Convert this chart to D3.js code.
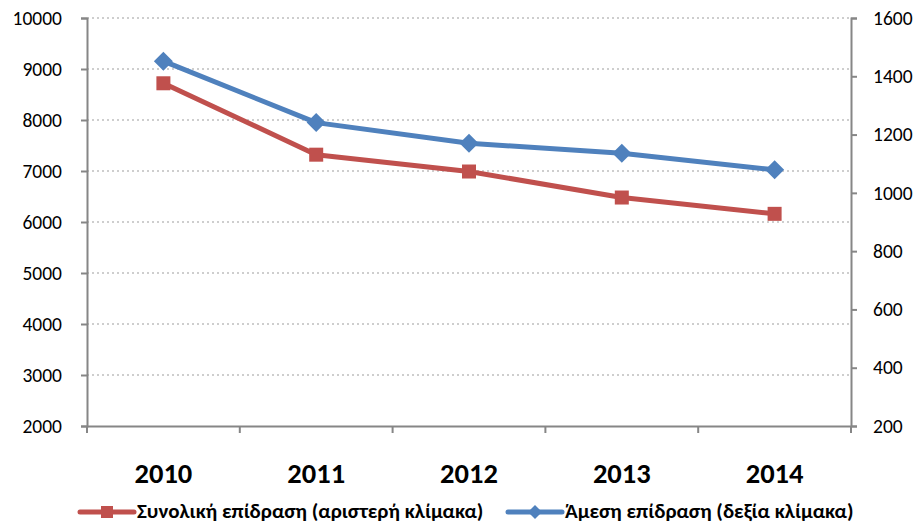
<!DOCTYPE html>
<html>
<head>
<meta charset="utf-8">
<script src="https://cdn.jsdelivr.net/npm/d3@7"></script>
<style>
  body { margin: 0; background: #fff; }
  svg text { font-family: Carlito, "Open Sans", "Noto Sans", sans-serif; }
</style>
</head>
<body>
<div id="chart-container"></div>
<script>
// Data
const years = ["2010", "2011", "2012", "2013", "2014"];
const totalEffect = [8720, 7320, 6990, 6480, 6160];   // left scale
const directEffect = [1452, 1241, 1170, 1136, 1079];  // right scale
const leftTicks = [2000, 3000, 4000, 5000, 6000, 7000, 8000, 9000, 10000];
const rightTicks = [200, 400, 600, 800, 1000, 1200, 1400, 1600];
const seriesNames = ["Συνολική επίδραση (αριστερή κλίμακα)", "Άμεση επίδραση (δεξία κλίμακα)"];

const W = 917, H = 523;
const margin = { top: 18, right: 66, bottom: 97, left: 87 };
const width = W - margin.left - margin.right;
const height = H - margin.top - margin.bottom;

const svg = d3.select("#chart-container")
  .append("svg")
  .attr("width", W)
  .attr("height", H);

const g = svg.append("g")
  .attr("transform", `translate(${margin.left},${margin.top})`);

const x = d3.scaleBand().domain(years).range([0, width]);
const yL = d3.scaleLinear().domain([2000, 10000]).range([height, 0]);
const yR = d3.scaleLinear().domain([200, 1600]).range([height, 0]);

const axisColor = "#868686";

// Gridlines
g.append("g")
  .selectAll("line")
  .data(leftTicks.filter(d => d > 2000))
  .enter().append("line")
  .attr("x1", 0).attr("x2", width)
  .attr("y1", d => yL(d)).attr("y2", d => yL(d))
  .attr("stroke", "#bfbfbf")
  .attr("stroke-width", 1.3)
  .attr("stroke-dasharray", "2,3");

// Left axis
const leftAxis = g.append("g")
  .call(d3.axisLeft(yL).tickValues(leftTicks).tickSize(6).tickPadding(19).tickFormat(d3.format("d")));
// Right axis
const rightAxis = g.append("g")
  .attr("transform", `translate(${width},0)`)
  .call(d3.axisRight(yR).tickValues(rightTicks).tickSize(6).tickPadding(16).tickFormat(d3.format("d")));
// Bottom axis, labels centred in each category
const xAxis = g.append("g")
  .attr("transform", `translate(0,${height})`)
  .call(d3.axisBottom(x).tickSize(0));

[leftAxis, rightAxis].forEach(a => {
  a.select(".domain").attr("stroke", axisColor).attr("stroke-width", 2);
  a.selectAll(".tick line").attr("stroke", axisColor).attr("stroke-width", 2);
  a.selectAll(".tick text").attr("fill", "#000").style("font-size", "19.5px");
});
xAxis.select(".domain").attr("stroke", axisColor).attr("stroke-width", 2);
xAxis.selectAll(".tick text")
  .attr("y", 57)
  .attr("dy", 0)
  .attr("fill", "#000")
  .style("font-size", "28.5px")
  .style("font-weight", "bold");

// category boundary ticks
g.append("g")
  .selectAll("line")
  .data(years.map(d => x(d)).concat([width]))
  .enter().append("line")
  .attr("x1", d => d).attr("x2", d => d)
  .attr("y1", height).attr("y2", height + 7)
  .attr("stroke", axisColor).attr("stroke-width", 2);

const red = "#C0504D", blue = "#4F81BD";
const cx = d => x(d) + x.bandwidth() / 2;

// Total effect (left scale)
g.append("path")
  .datum(totalEffect)
  .attr("fill", "none")
  .attr("stroke", red)
  .attr("stroke-width", 5)
  .attr("stroke-linejoin", "round")
  .attr("d", d3.line().x((d, i) => cx(years[i])).y(d => yL(d)));

g.selectAll(".sq")
  .data(totalEffect)
  .enter().append("rect")
  .attr("x", (d, i) => cx(years[i]) - 7)
  .attr("y", d => yL(d) - 7)
  .attr("width", 14).attr("height", 14)
  .attr("fill", red);

// Direct effect (right scale)
g.append("path")
  .datum(directEffect)
  .attr("fill", "none")
  .attr("stroke", blue)
  .attr("stroke-width", 5)
  .attr("stroke-linejoin", "round")
  .attr("d", d3.line().x((d, i) => cx(years[i])).y(d => yR(d)));

g.selectAll(".dia")
  .data(directEffect)
  .enter().append("path")
  .attr("transform", (d, i) => `translate(${cx(years[i])},${yR(d)})`)
  .attr("d", "M0,-9.5L9.5,0L0,9.5L-9.5,0Z")
  .attr("fill", blue);

// Legend
const legend = svg.append("g").attr("transform", "translate(0,512)");
const items = [
  { name: seriesNames[0], color: red, x0: 80, shape: "sq" },
  { name: seriesNames[1], color: blue, x0: 508, shape: "dia" }
];
items.forEach(it => {
  legend.append("line")
    .attr("x1", it.x0).attr("x2", it.x0 + 54)
    .attr("y1", 0).attr("y2", 0)
    .attr("stroke", it.color).attr("stroke-width", 5)
    .attr("stroke-linecap", "round");
  if (it.shape === "sq") {
    legend.append("rect")
      .attr("x", it.x0 + 27 - 6).attr("y", -6)
      .attr("width", 12).attr("height", 12)
      .attr("fill", it.color);
  } else {
    legend.append("path")
      .attr("transform", `translate(${it.x0 + 27},0)`)
      .attr("d", "M0,-7L7,0L0,7L-7,0Z")
      .attr("fill", it.color);
  }
  legend.append("text")
    .attr("x", it.x0 + 57)
    .attr("y", 6)
    .style("font-size", "21px")
    .style("font-weight", "bold")
    .text(it.name);
});
</script>
</body>
</html>
